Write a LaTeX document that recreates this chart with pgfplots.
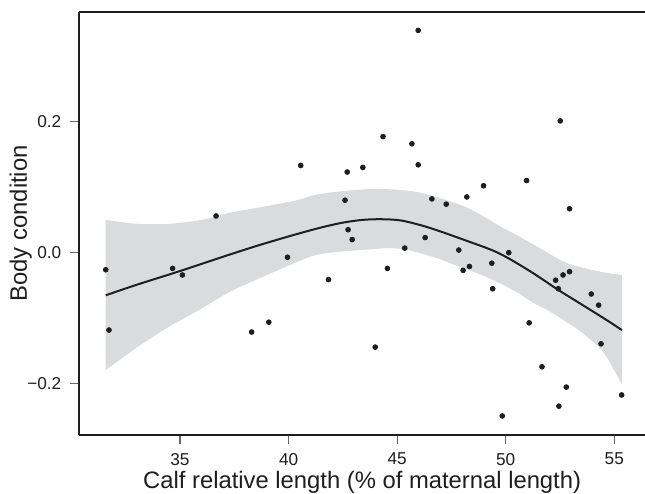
\documentclass[border=0pt]{standalone}
\usepackage{fontspec}
\setmainfont{Liberation Sans}
\usepackage{pgfplots}
\pgfplotsset{compat=1.18}
\usepgfplotslibrary{fillbetween}

\definecolor{bandgray}{RGB}{218,219,221}
\definecolor{ink}{RGB}{30,30,30}

\begin{document}
\begin{tikzpicture}
\begin{axis}[
  scale only axis, width=282.85pt, height=211.65pt,
  xmin=30.363, xmax=56.414, ymin=-0.278, ymax=0.3675,
  axis x line*=box, axis y line*=left,
  axis line style={-, line width=1pt, ink},
  xtick={35,40,45,50,55}, xticklabels={35,40,45,50,55},
  ytick={-0.2,0,0.2}, yticklabels={−0.2,0.0,0.2},
  xtick pos=bottom, ytick pos=left,
  tick align=outside, major tick length=4.5pt,
  tick style={gray!80!black, line width=0.6pt},
  ticklabel style={font=\fontsize{8.6}{10}\selectfont, text=ink},
  xticklabel style={yshift=-1pt},
  yticklabel style={xshift=-1pt},
  every axis x label/.style={at={(axis description cs:0.5,-0.1276)}, anchor=base},
  every axis y label/.style={at={(axis description cs:-0.0925,0.5)}, rotate=90, anchor=base},
  label style={font=\fontsize{11.9}{14}\selectfont, text=ink},
  xlabel={Calf relative length (\% of maternal length)},
  ylabel={Body condition},
  clip=false,
]
% confidence band
\addplot[name path=up, draw=none, smooth] coordinates {
(31.58,0.050)(33,0.044)(34.5,0.044)(36,0.050)(37.3,0.061)(39,0.071)(40.38,0.080)
(41.22,0.088)(42.5,0.094)(43.76,0.097)(44.5,0.097)(45.83,0.093)(47,0.083)
(48.13,0.070)(49.0,0.055)(49.75,0.040)(50.44,0.028)(51.67,0.005)(52.82,-0.016)
(54.35,-0.029)(55.35,-0.034)};
\addplot[name path=lo, draw=none, smooth] coordinates {
(31.58,-0.179)(33,-0.145)(34.39,-0.115)(36,-0.085)(37.46,-0.057)(39.92,-0.021)
(41.22,-0.004)(42.5,0.002)(43.76,0.005)(44.6,0.007)(45.5,0.004)(46.8,-0.008)
(47.9,-0.022)(48.9,-0.034)(49.75,-0.047)(50.6,-0.062)(51.2,-0.075)(52.05,-0.090)
(53.0,-0.110)(53.59,-0.124)(54.5,-0.152)(55.35,-0.201)};
\addplot[bandgray, draw=none] fill between[of=up and lo];
% fitted curve
\addplot[ink, line width=1pt, smooth] coordinates {
(31.58,-0.065)(33,-0.049)(35,-0.028)(37,-0.006)(38.5,0.010)(39.92,0.024)
(41.22,0.036)(42.37,0.045)(43.4,0.050)(44.29,0.051)(45.2,0.049)(46.29,0.040)
(47.2,0.030)(48.13,0.019)(49.36,0.004)(50.15,-0.009)(51.3,-0.032)(52.43,-0.057)
(53.5,-0.079)(54.66,-0.103)(55.35,-0.118)};
% observations
\addplot[only marks, mark=*, mark size=1.2pt, ink] coordinates {
(31.58,-0.026)(31.73,-0.118)(34.66,-0.024)(35.11,-0.034)(36.66,0.056)
(38.30,-0.121)(39.09,-0.106)(39.95,-0.007)(40.56,0.133)(41.84,-0.041)
(42.60,0.080)(42.70,0.123)(42.74,0.035)(42.93,0.020)(43.42,0.130)
(43.99,-0.144)(44.35,0.177)(44.55,-0.024)(45.35,0.007)(45.68,0.166)
(45.97,0.339)(45.97,0.134)(46.29,0.023)(46.60,0.082)(47.26,0.074)
(47.84,0.004)(48.04,-0.027)(48.21,0.085)(48.33,-0.021)(48.98,0.102)
(49.36,-0.016)(49.40,-0.055)(49.84,-0.249)(50.14,0.000)(50.96,0.110)
(51.08,-0.107)(51.67,-0.174)(52.30,-0.042)(52.42,-0.055)(52.45,-0.234)
(52.51,0.201)(52.64,-0.034)(52.79,-0.205)(52.94,0.067)(52.94,-0.029)
(53.94,-0.063)(54.28,-0.080)(54.39,-0.139)(55.34,-0.217)};
\end{axis}
\pgfresetboundingbox
\path[use as bounding box] ([xshift=-39.65pt, yshift=5.85pt]current axis.north west)
  rectangle ([yshift=-29.5pt]current axis.south east);
\end{tikzpicture}
\end{document}
